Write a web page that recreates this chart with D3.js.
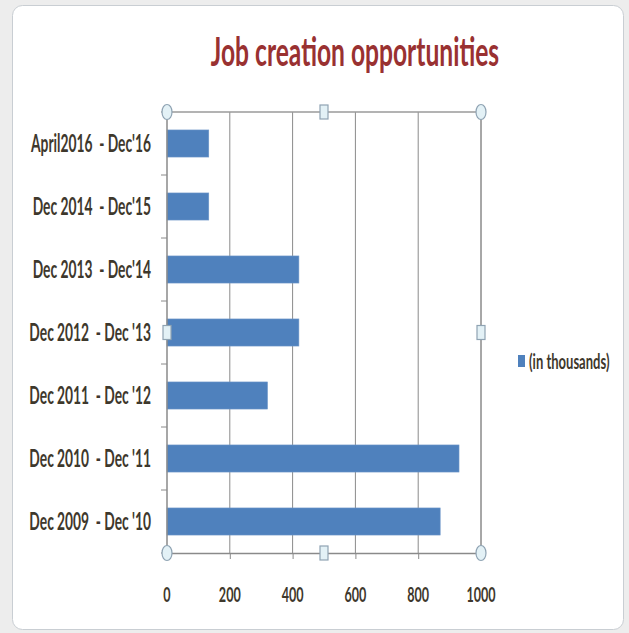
<!DOCTYPE html>
<html>
<head>
<meta charset="utf-8">
<script src="https://cdn.jsdelivr.net/npm/d3@7"></script>
<style>
  body { margin: 0; background: #ededed; }
  text { font-family: Lato, "Open Sans", sans-serif; white-space: pre; font-weight: bold; }
</style>
</head>
<body>
<svg id="chart"></svg>
<script>
// Data (thousands of jobs)
const categories = [
    "April2016  - Dec'16",
    "Dec 2014  - Dec'15",
    "Dec 2013  - Dec'14",
    "Dec 2012  - Dec '13",
    "Dec 2011  - Dec '12",
    "Dec 2010  - Dec '11",
    "Dec 2009  - Dec '10"
]
const values = [133, 133, 420, 420, 320, 930, 870]
const xTicks = [0, 200, 400, 600, 800, 1000]
const seriesName = "(in thousands)"
const titleText = "Job creation opportunities"

let svgWidth = 629, svgHeight = 633
let plot = {left: 167, right: 481, top: 112, bottom: 553} // plot area box

let svg = d3.select("#chart")
    .attr("width", svgWidth)
    .attr("height", svgHeight)

// chart card
svg.append("rect")
    .attr("x", 12.5).attr("y", 5.5)
    .attr("width", 611).attr("height", 624)
    .attr("rx", 10)
    .attr("fill", "#fff")
    .attr("stroke", "#c9ced3")

let xScale = d3.scaleLinear()
    .domain([0, 1000])
    .range([plot.left, plot.right])

let yScale = d3.scaleBand()
    .domain(categories)
    .range([plot.top, plot.bottom])
    .paddingInner(0.57)
    .paddingOuter(0.285)

// helper for squashed text (the original picture is squashed sideways)
function label(g, x, y, txt, size, anchor, color, squeeze) {
    return g.append("text")
        .attr("transform", `translate(${x}, ${y}) scale(${squeeze}, 1)`)
        .attr("text-anchor", anchor)
        .attr("font-size", size)
        .attr("fill", color)
        .text(txt)
}

// title
label(svg, 355, 66, titleText, 40, "middle", "#993131", 0.615)

// vertical gridlines
svg.append("g")
    .selectAll("line")
    .data(xTicks.slice(1))
    .enter()
    .append("line")
    .attr("x1", d => xScale(d)).attr("x2", d => xScale(d))
    .attr("y1", plot.top).attr("y2", plot.bottom)
    .attr("stroke", "#8a8a8a")

// top border of plot area
svg.append("line")
    .attr("x1", plot.left).attr("x2", plot.right)
    .attr("y1", plot.top).attr("y2", plot.top)
    .attr("stroke", "#9a9a9a").attr("stroke-width", 1.5)

// bars
svg.selectAll(".bar")
    .data(values)
    .enter()
    .append("rect")
    .attr("class", "bar")
    .attr("x", xScale(0))
    .attr("y", (d, i) => yScale(categories[i]))
    .attr("width", d => xScale(d) - xScale(0))
    .attr("height", yScale.bandwidth())
    .attr("fill", "#4f81bd")
    .attr("stroke", "#6f97c9")
    .attr("stroke-width", 0.6)

// x axis
let xAxis = d3.axisBottom(xScale)
    .tickValues(xTicks)
    .tickSize(6)
    .tickFormat("")
let xg = svg.append("g")
    .attr("transform", `translate(0, ${plot.bottom})`)
    .call(xAxis)
xg.select(".domain").attr("stroke", "#8a8a8a").attr("stroke-width", 1.5)
xg.selectAll(".tick line").attr("stroke", "#8a8a8a")
xTicks.forEach(t => label(svg, xScale(t), 602, String(t), 21, "middle", "#3e382c", 0.6))

// y axis with ticks between categories
let yg = svg.append("g")
    .attr("transform", `translate(${plot.left}, 0)`)
let step = yScale.step()
let bounds = d3.range(categories.length + 1).map(i => plot.top + i * step)
yg.append("line")
    .attr("x1", 0).attr("x2", 0)
    .attr("y1", plot.top).attr("y2", plot.bottom)
    .attr("stroke", "#8a8a8a").attr("stroke-width", 1.5)
yg.selectAll(".ytick")
    .data(bounds)
    .enter()
    .append("line")
    .attr("x1", -6).attr("x2", 0)
    .attr("y1", d => d).attr("y2", d => d)
    .attr("stroke", "#8a8a8a")
categories.forEach(c => label(svg, 151, yScale(c) + yScale.bandwidth() / 2 + 8, c, 24, "end", "#3e382c", 0.575))

// right border
svg.append("line")
    .attr("x1", plot.right).attr("x2", plot.right)
    .attr("y1", plot.top).attr("y2", plot.bottom)
    .attr("stroke", "#8a8a8a")

// selection handles of the plot area
let midX = (plot.left + plot.right) / 2, midY = (plot.top + plot.bottom) / 2
let corners = [[plot.left, plot.top], [plot.right, plot.top], [plot.left, plot.bottom], [plot.right, plot.bottom]]
let sides = [[midX, plot.top], [midX, plot.bottom], [plot.left, midY], [plot.right, midY]]
svg.selectAll(".corner")
    .data(corners)
    .enter()
    .append("ellipse")
    .attr("cx", d => d[0]).attr("cy", d => d[1])
    .attr("rx", 5).attr("ry", 7.5)
    .attr("fill", "#e3f1f6").attr("stroke", "#8fa3b3").attr("stroke-width", 1.2)
svg.selectAll(".side")
    .data(sides)
    .enter()
    .append("rect")
    .attr("x", d => d[0] - 4).attr("y", d => d[1] - 7)
    .attr("width", 8).attr("height", 14)
    .attr("fill", "#e3f1f6").attr("stroke", "#8fa3b3").attr("stroke-width", 1.2)

// legend
svg.append("rect")
    .attr("x", 518).attr("y", 355)
    .attr("width", 7).attr("height", 12)
    .attr("fill", "#4f81bd")
label(svg, 529, 369, seriesName, 21, "start", "#3e382c", 0.62)
</script>
</body>
</html>
